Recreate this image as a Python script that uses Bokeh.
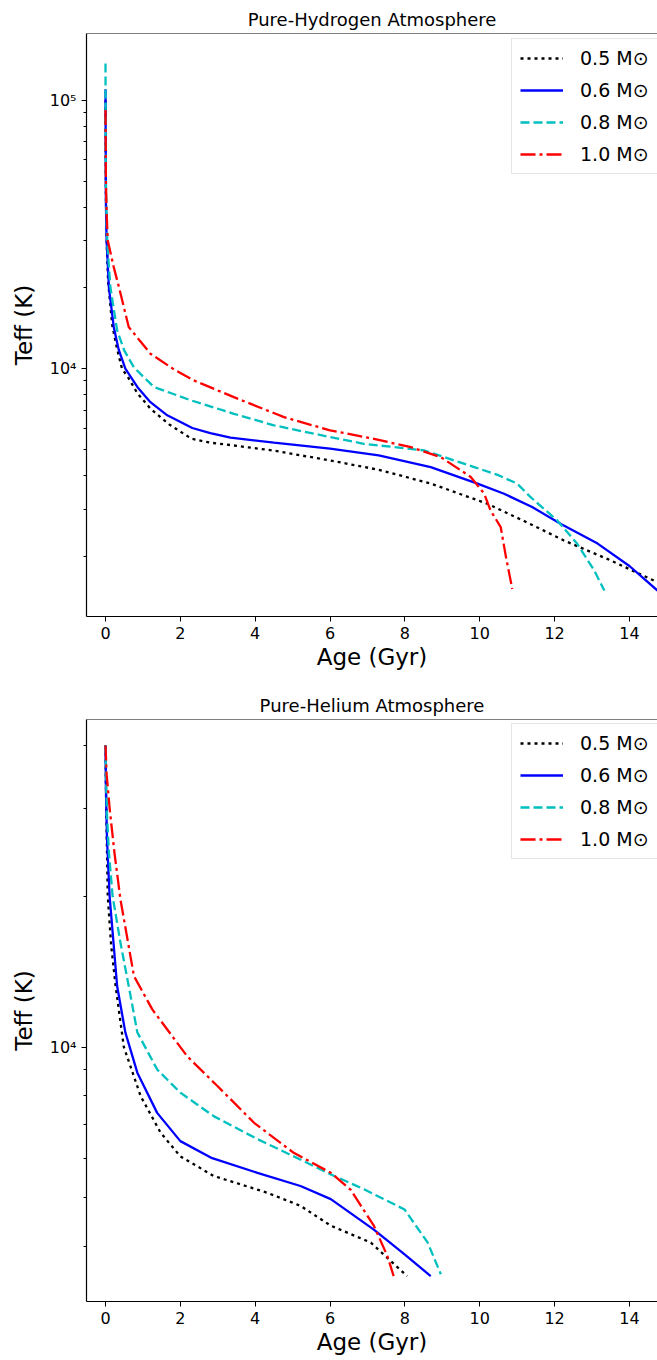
from bokeh.plotting import figure
from bokeh.layouts import column
from bokeh.models import (Range1d, FixedTicker, Legend, LegendItem, Span)
from bokeh.embed import file_html
from bokeh.resources import INLINE

# ---------------- data ----------------
masses = ["0.5 M\u2299", "0.6 M\u2299", "0.8 M\u2299", "1.0 M\u2299"]
colors = ["#000000", "#0000ff", "#00bfbf", "#ff0000"]
dashes = ["3 4", "solid", "9 4", "15 4 3 4"]

# Pure-hydrogen atmosphere (Age in Gyr, Teff in K)
h_age_05 = [0, 0.01, 0.03, 0.07, 0.18, 0.3, 0.44, 0.6, 0.85, 1.2, 1.7, 2.3, 2.8, 3.4, 4.5, 6.0, 7.3, 8.7, 10.2, 11.2, 12.25, 13.5, 14.75, 15.0]
h_teff_05 = [100000, 45000, 30000, 21000, 14500, 12000, 10000, 9300, 8100, 7100, 6200, 5480, 5300, 5180, 4950, 4550, 4200, 3730, 3140, 2700, 2290, 1930, 1600, 1550]
h_age_06 = [0, 0.01, 0.03, 0.09, 0.22, 0.35, 0.53, 0.85, 1.2, 1.65, 2.32, 2.8, 3.34, 4.5, 6.0, 7.3, 8.69, 9.94, 10.65, 11.4, 12.17, 13.15, 14.0, 14.75]
h_teff_06 = [110000, 42000, 30000, 20100, 14300, 11800, 10000, 8550, 7500, 6700, 6010, 5750, 5530, 5300, 5040, 4750, 4300, 3730, 3420, 3050, 2640, 2230, 1840, 1490]
h_age_08 = [0, 0.005, 0.02, 0.05, 0.13, 0.31, 0.5, 0.76, 1.29, 2.27, 3.43, 4.5, 6.0, 6.9, 8.51, 9.85, 10.5, 11.0, 11.36, 12.07, 12.6, 13.06, 13.33]
h_teff_08 = [137000, 60000, 40000, 29000, 20100, 13900, 11700, 10100, 8550, 7630, 6790, 6150, 5560, 5250, 4960, 4300, 4010, 3730, 3320, 2720, 2230, 1770, 1490]
h_age_10 = [0, 0.01, 0.03, 0.06, 0.22, 0.36, 0.62, 1.2, 1.8, 2.36, 3.43, 4.77, 6.0, 7.1, 8.16, 8.96, 9.76, 10.12, 10.29, 10.56, 10.7, 10.87]
h_teff_10 = [92000, 50000, 38000, 30000, 23900, 20100, 14300, 11370, 10000, 9040, 7830, 6600, 5890, 5500, 5100, 4680, 3950, 3420, 2960, 2570, 1990, 1510]

# Pure-helium atmosphere
he_age_05 = [0, 0.01, 0.03, 0.06, 0.15, 0.27, 0.49, 0.94, 1.47, 2.0, 2.89, 4.32, 5.21, 6.02, 7.09, 8.06]
he_teff_05 = [40000, 34000, 27000, 20000, 16000, 13240, 10000, 7980, 6750, 6050, 5530, 5120, 4820, 4400, 4070, 3490]
he_age_06 = [0, 0.01, 0.04, 0.11, 0.31, 0.53, 0.85, 1.38, 2.0, 2.85, 4.06, 5.21, 6.02, 7.17, 8.0, 8.69]
he_teff_06 = [40000, 33000, 26000, 20000, 13240, 10700, 8890, 7390, 6490, 6000, 5610, 5280, 4970, 4320, 3850, 3490]
he_age_08 = [0, 0.01, 0.04, 0.09, 0.19, 0.4, 0.62, 0.85, 1.38, 2.0, 2.89, 4.06, 5.03, 6.02, 6.91, 7.99, 8.61, 8.96]
he_teff_08 = [40000, 35000, 29000, 24500, 20000, 16150, 13240, 10700, 9020, 8110, 7280, 6550, 6050, 5570, 5200, 4740, 4070, 3520]
he_age_10 = [0, 0.03, 0.11, 0.24, 0.4, 0.76, 1.25, 1.65, 2.18, 2.99, 3.97, 5.03, 6.02, 6.55, 7.17, 7.53, 7.7]
he_teff_10 = [40000, 35000, 30000, 24400, 19700, 13860, 11890, 10840, 9590, 8360, 7060, 6150, 5610, 5190, 4400, 3830, 3490]

x_ticks = [0, 2, 4, 6, 8, 10, 12, 14]
titles = ["Pure-Hydrogen Atmosphere", "Pure-Helium Atmosphere"]

FONT = "DejaVu Sans"


def make_panel(title, series, y_start, y_end, major, minor, labels,
               border_top, border_bottom, frame_h, legend_y):
    p = figure(frame_width=571, frame_height=frame_h,
               y_axis_type="log", output_backend="svg", toolbar_location=None,
               x_range=Range1d(-0.508, 14.75), y_range=Range1d(y_start, y_end),
               min_border_left=86, min_border_right=0,
               min_border_top=border_top, min_border_bottom=border_bottom)
    p.title.text = title
    p.title.text_font = FONT
    p.title.text_font_size = "18px"
    p.title.text_font_style = "normal"
    p.title.text_color = "black"
    p.title.align = "center"
    p.title.standoff = 8
    p.outline_line_color = None
    p.grid.visible = False
    p.background_fill_color = "white"
    p.border_fill_color = "white"

    items = []
    for (xs, ys), lab, c, d in zip(series, masses, colors, dashes):
        r = p.line(xs, ys, line_color=c, line_width=2.3, line_dash=d)
        items.append(LegendItem(label=lab, renderers=[r]))

    # top spine
    p.add_layout(Span(location=y_end, dimension="width", line_color="black", line_width=1.2))

    xa = p.xaxis[0]
    xa.ticker = FixedTicker(ticks=x_ticks, minor_ticks=[])
    xa.axis_label = "Age (Gyr)"
    ya = p.yaxis[0]
    ya.ticker = FixedTicker(ticks=major, minor_ticks=minor)
    ya.major_label_overrides = labels
    ya.axis_label = "Teff (K)"
    for ax in (xa, ya):
        ax.axis_label_text_font = FONT
        ax.axis_label_text_font_size = "23px"
        ax.axis_label_text_font_style = "normal"
        ax.axis_label_text_color = "black"
        ax.major_label_text_font = FONT
        ax.major_label_text_font_size = "16px"
        ax.major_label_text_color = "black"
        ax.axis_line_color = "black"
        ax.axis_line_width = 1.2
        ax.major_tick_line_color = "black"
        ax.minor_tick_line_color = "black"
        ax.major_tick_in = 0
        ax.major_tick_out = 5
        ax.minor_tick_in = 0
        ax.minor_tick_out = 3
        ax.major_label_standoff = 5
    xa.axis_label_standoff = 2
    ya.axis_label_standoff = 10

    leg = Legend(items=items, location=(425, legend_y),
                 label_text_font=FONT, label_text_font_size="19px",
                 label_text_color="black",
                 glyph_width=43, glyph_height=20, label_height=20,
                 label_standoff=17, spacing=10, padding=8,
                 border_line_color="#cccccc", border_line_width=1,
                 background_fill_color="white", background_fill_alpha=0.8)
    p.add_layout(leg)
    return p


h_series = [(h_age_05, h_teff_05), (h_age_06, h_teff_06), (h_age_08, h_teff_08), (h_age_10, h_teff_10)]
he_series = [(he_age_05, he_teff_05), (he_age_06, he_teff_06), (he_age_08, he_teff_08), (he_age_10, he_teff_10)]

minor_h = [v * 1000 for v in range(2, 10)] + [v * 10000 for v in range(2, 10)]
minor_he = [4000, 5000, 6000, 7000, 8000, 9000, 20000, 30000, 40000]

p1 = make_panel(titles[0], h_series, 1193, 177300, [10000, 100000], minor_h,
                {10000: "10\u2074", 100000: "10\u2075"}, 33, 54, 583, 442)
p2 = make_panel(titles[1], he_series, 3105, 45080, [10000], minor_he,
                {10000: "10\u2074"}, 47, 61, 582, 442)

layout = column(p1, p2, spacing=0)
open("out.html", "w").write(file_html(layout, INLINE))
